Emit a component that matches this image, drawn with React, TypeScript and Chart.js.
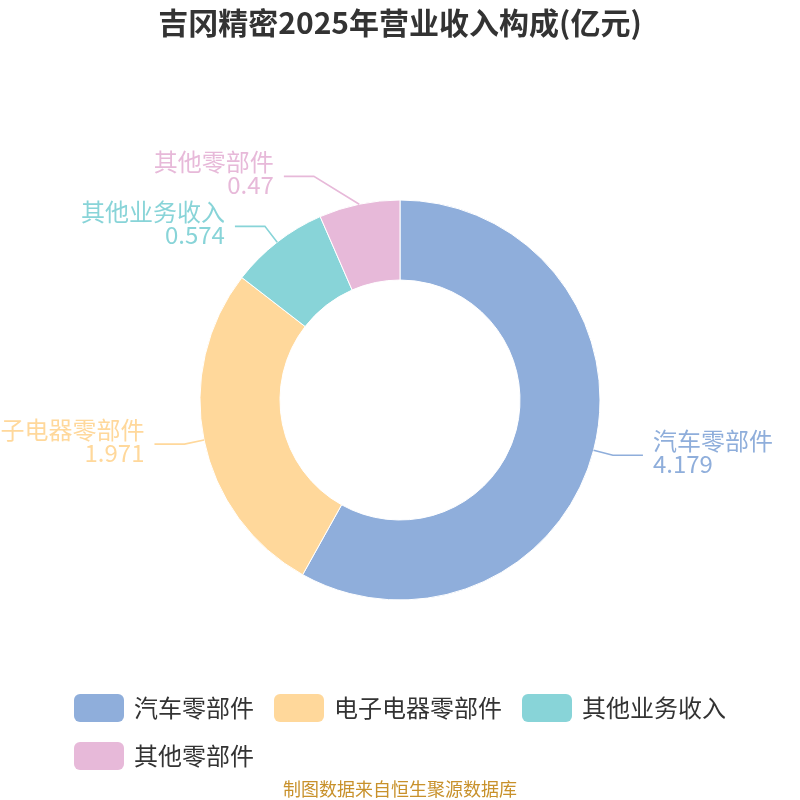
import { useEffect, useRef } from 'react';
import { Chart, registerables } from 'chart.js';

Chart.register(...registerables);

const TITLE = '吉冈精密2025年营业收入构成(亿元)';
const SOURCE = '制图数据来自恒生聚源数据库';
const categories = ['汽车零部件', '电子电器零部件', '其他业务收入', '其他零部件'];
const values = [4.179, 1.971, 0.574, 0.47];
const valueLabels = ['4.179', '1.971', '0.574', '0.47'];
const colors = ['#8FAEDB', '#FFD89B', '#88D4D8', '#E7B9D9'];

const FONT = '"Noto Sans CJK SC", "Noto Sans", sans-serif';
const LEN1 = 20;
const LEN2 = 30;
const GAP = 50;
const KX = 5;

const overlay = {
  id: 'overlay',
  afterDraw(chart: any) {
    const ctx = chart.ctx as CanvasRenderingContext2D;
    const W = chart.width;
    ctx.save();

    // title
    ctx.fillStyle = '#333333';
    ctx.font = `bold 30px ${FONT}`;
    ctx.textAlign = 'center';
    ctx.textBaseline = 'middle';
    ctx.fillText(TITLE, W / 2, 23);

    // outer labels
    const meta = chart.getDatasetMeta(0);
    const items = meta.data.map((arc: any, i: number) => {
      const p = arc.getProps(['x', 'y', 'startAngle', 'endAngle', 'outerRadius'], true);
      const mid = (p.startAngle + p.endAngle) / 2;
      const c = Math.cos(mid);
      const s = Math.sin(mid);
      const dir = c >= 0 ? 1 : -1;
      return {
        i,
        sx: p.x + c * p.outerRadius,
        sy: p.y + s * p.outerRadius,
        ex: p.x + c * (p.outerRadius + LEN1),
        ey: p.y + s * (p.outerRadius + LEN1),
        dir,
      };
    });
    [1, -1].forEach((d) => {
      const side = items.filter((it: any) => it.dir === d).sort((a: any, b: any) => a.ey - b.ey);
      for (let k = side.length - 2; k >= 0; k--) {
        const lim = side[k + 1].ey - GAP;
        if (side[k].ey > lim) {
          const shift = side[k].ey - lim;
          side[k].ey = lim;
          side[k].ex += d * shift * KX;
        }
      }
    });
    items.forEach((it: any) => {
      const col = colors[it.i];
      ctx.strokeStyle = col;
      ctx.lineWidth = 1.6;
      ctx.beginPath();
      ctx.moveTo(it.sx, it.sy);
      ctx.lineTo(it.ex, it.ey);
      ctx.lineTo(it.ex + it.dir * LEN2, it.ey);
      ctx.stroke();
      ctx.fillStyle = col;
      ctx.font = `24px ${FONT}`;
      ctx.textAlign = it.dir > 0 ? 'left' : 'right';
      ctx.textBaseline = 'middle';
      const tx = it.ex + it.dir * (LEN2 + 10);
      ctx.fillText(categories[it.i], tx, it.ey - 14);
      ctx.fillText(valueLabels[it.i], tx, it.ey + 9);
    });

    // legend
    ctx.font = `24px ${FONT}`;
    const boxW = 50, boxH = 28, boxGap = 10, itemGap = 20, maxW = W - 60;
    const widths = categories.map((c) => boxW + boxGap + ctx.measureText(c).width);
    const rows: number[][] = [[]];
    let rowW = 0;
    widths.forEach((w, i) => {
      const cur = rows[rows.length - 1];
      const add = cur.length ? itemGap + w : w;
      if (cur.length && rowW + add > maxW) {
        rows.push([i]);
        rowW = w;
      } else {
        cur.push(i);
        rowW += add;
      }
    });
    const firstW = rows[0].reduce((acc, i, k) => acc + widths[i] + (k ? itemGap : 0), 0);
    const startX = (W - firstW) / 2;
    rows.forEach((row, r) => {
      const cy = 708 + r * 48;
      let x = startX;
      row.forEach((i) => {
        ctx.fillStyle = colors[i];
        ctx.beginPath();
        (ctx as any).roundRect(x, cy - boxH / 2, boxW, boxH, 6);
        ctx.fill();
        ctx.fillStyle = '#333333';
        ctx.textAlign = 'left';
        ctx.textBaseline = 'middle';
        ctx.fillText(categories[i], x + boxW + boxGap, cy);
        x += widths[i] + itemGap;
      });
    });

    // source
    ctx.fillStyle = '#C8912B';
    ctx.font = `18px ${FONT}`;
    ctx.textAlign = 'center';
    ctx.textBaseline = 'middle';
    ctx.fillText(SOURCE, W / 2, 789);

    ctx.restore();
  },
};

export default function App() {
  const ref = useRef<HTMLCanvasElement | null>(null);
  useEffect(() => {
    document.body.style.margin = '0';
    if (!ref.current) return;
    const chart = new Chart(ref.current, {
      type: 'doughnut',
      data: {
        labels: categories,
        datasets: [
          {
            data: values,
            backgroundColor: colors,
            borderColor: '#ffffff',
            borderWidth: 1,
            hoverOffset: 0,
          },
        ],
      },
      options: {
        animation: false,
        responsive: true,
        maintainAspectRatio: false,
        radius: 200,
        cutout: '60%',
        layout: { padding: 0 },
        plugins: {
          legend: { display: false },
          title: { display: false },
          tooltip: { enabled: false },
        },
      } as any,
      plugins: [overlay],
    });
    return () => chart.destroy();
  }, []);
  return (
    <div style={{ width: 800, height: 800, position: 'relative', background: '#ffffff' }}>
      <canvas ref={ref} />
    </div>
  );
}
